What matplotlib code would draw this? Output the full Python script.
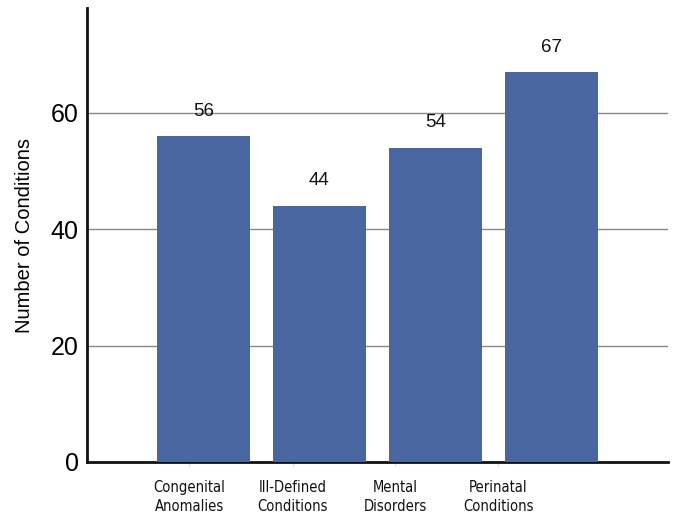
import matplotlib
matplotlib.use("Agg")
import matplotlib.pyplot as plt

categories = ["Congenital\nAnomalies", "Ill-Defined\nConditions", "Mental\nDisorders", "Perinatal\nConditions"]
values = [56, 44, 54, 67]
yticks = [0, 20, 40, 60]

fig = plt.figure(figsize=(6.73, 5.14), dpi=100)
ax = fig.add_axes([0.1293, 0.1012, 0.8633, 0.8832])

x = list(range(len(values)))
ax.bar(x, values, width=0.8, color="#4A66A0", zorder=3)
for xi, v in zip(x, values):
    ax.text(xi, v + 4.3, str(v), ha="center", va="center", fontsize=13.5,
            family="Liberation Sans", color="#111111")

ax.set_xlim(-1, 4)
ax.set_ylim(0, 78)
ax.set_yticks(yticks)
ax.set_yticklabels([str(t) for t in yticks], fontsize=18, family="Liberation Sans")
ax.tick_params(axis="y", length=0, pad=6)
ax.yaxis.grid(True, color="#888888", linewidth=1, zorder=0)
for t in ax.get_ygridlines()[:1]:
    t.set_visible(False)

label_pos = [-0.12, 0.77, 1.65, 2.54]
ax.set_xticks(label_pos)
ax.set_xticklabels(categories, fontsize=10.5, family="DejaVu Sans", stretch="condensed",
                   color="#111111", linespacing=1.3)
ax.tick_params(axis="x", length=3, color="#dddddd", pad=10)

for s in ["top", "right"]:
    ax.spines[s].set_visible(False)
for s in ["left", "bottom"]:
    ax.spines[s].set_linewidth(2)
    ax.spines[s].set_color("#111111")

ax.set_ylabel("Number of Conditions", fontsize=14.5, family="Liberation Sans", labelpad=12)

fig.savefig("out.png", dpi=100)
